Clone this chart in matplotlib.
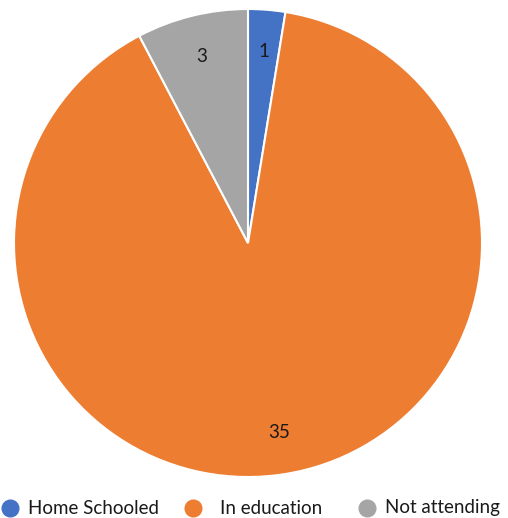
import matplotlib.pyplot as plt
from matplotlib.lines import Line2D

labels = ["Home Schooled", "In education", "Not attending"]
counts = [1, 35, 3]
colors = ["#4472C4", "#ED7D31", "#A5A5A5"]

W, H = 508, 518
cx, cy, r = 248, 243, 234

fig = plt.figure(figsize=(W / 100, H / 100), dpi=100)
ax = fig.add_axes([0, 0, 1, 1])

total = sum(counts)
ax.pie(counts, colors=colors, startangle=90, counterclock=False,
       wedgeprops=dict(edgecolor="white", linewidth=1.5),
       autopct=lambda p: "%d" % round(p * total / 100),
       pctdistance=0.82, textprops=dict(fontsize=13.5, family="Lato", color="#1a1a1a"))

ax.set_xlim(-cx / r, (W - cx) / r)
ax.set_ylim(-(H - cy) / r, cy / r)
ax.set_aspect("equal")
ax.axis("off")

# legend row along the bottom edge, laid out by hand
marker_x = [10, 193, 367]
text_x = [28, 220, 385]
ly = 1 - 508 / H
for mx, tx, c, lab in zip(marker_x, text_x, colors, labels):
    fig.add_artist(Line2D([mx / W], [ly], marker="o", linestyle="none", markersize=12,
                          markerfacecolor=c, markeredgecolor=c, transform=fig.transFigure))
    fig.text(tx / W, ly, lab, ha="left", va="center", family="Lato", fontsize=13.5,
             color="#1a1a1a")

fig.savefig("out.png", dpi=100)
